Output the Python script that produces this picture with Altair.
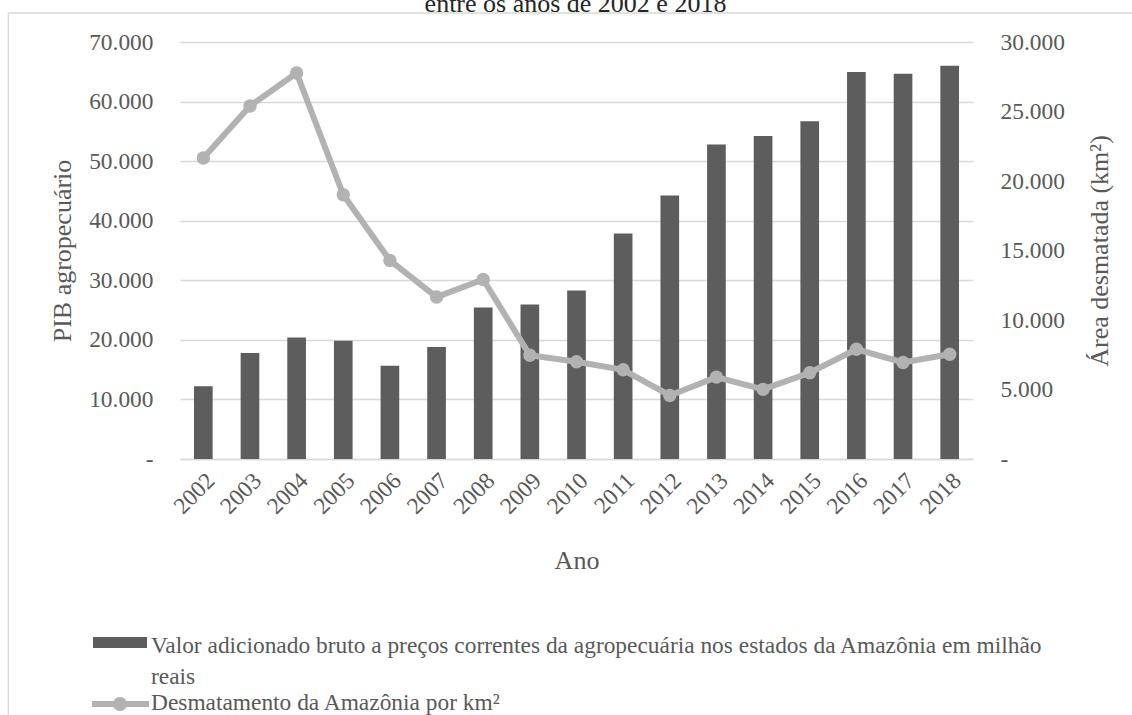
import altair as alt
import pandas as pd

# Série anual (2002-2018)
anos = [str(a) for a in range(2002, 2019)]
pib_agro = [12200, 17800, 20400, 19850, 15650, 18800, 25450, 25950, 28300,
            37850, 44250, 52800, 54200, 56700, 64950, 64650, 66000]
desmatamento = [21651, 25396, 27772, 19014, 14286, 11651, 12911, 7464, 7000,
                6418, 4571, 5891, 5012, 6207, 7893, 6947, 7536]

ticks_pib = [0, 10000, 20000, 30000, 40000, 50000, 60000, 70000]
ticks_area = [0, 5000, 10000, 15000, 20000, 25000, 30000]

titulo = "entre os anos de 2002 e 2018"
legenda_barras = "Valor adicionado bruto a preços correntes da agropecuária nos estados da Amazônia em milhão\nreais"
legenda_linha = "Desmatamento da Amazônia por km²"

COR_BARRA = "#5d5d5d"
COR_LINHA = "#b2b2b2"
COR_TEXTO = "#595959"
COR_GRADE = "#d9d9d9"
FONTE = "Liberation Serif"
TAM_ROTULO = 23.4
TAM_TITULO = 26

W, H = 793, 417
PAD = {"left": 180, "top": 42, "right": 1132 - 180 - W, "bottom": 715 - 42 - H}

df = pd.DataFrame({"Ano": anos, "PIB": pib_agro, "Desmatamento": desmatamento})

rotulo_num = "datum.value == 0 ? '-' : replace(format(datum.value, ',.0f'), ',', '.')"

eixo_x = alt.X(
    "Ano:N", sort=anos,
    scale=alt.Scale(paddingInner=0.6, paddingOuter=0.3),
    axis=alt.Axis(
        title="Ano", labelAngle=-45, labelFontSize=TAM_ROTULO, labelColor=COR_TEXTO,
        labelPadding=10, ticks=False, domainColor=COR_GRADE, domainWidth=1.3,
        titleFontSize=TAM_TITULO, titleColor=COR_TEXTO, titleFontWeight="normal",
        titleY=109, titleBaseline="alphabetic",
    ),
)

barras = alt.Chart(df).mark_bar(color=COR_BARRA).encode(
    x=eixo_x,
    y=alt.Y(
        "PIB:Q",
        scale=alt.Scale(domain=[0, 70000], nice=False),
        axis=alt.Axis(
            values=ticks_pib, labelExpr=rotulo_num, title="PIB agropecuário",
            labelFontSize=TAM_ROTULO, labelColor=COR_TEXTO, labelPadding=27,
            grid=True, gridColor=COR_GRADE, gridWidth=1.3, domain=False, ticks=False,
            titleFontSize=TAM_TITULO, titleColor=COR_TEXTO, titleFontWeight="normal",
            titleAngle=-90, titleX=-110, titleY=H / 2, titleAlign="center",
            titleBaseline="alphabetic",
        ),
    ),
)

linha = alt.Chart(df).mark_line(
    color=COR_LINHA, strokeWidth=6,
    point=alt.OverlayMarkDef(filled=True, size=180, color=COR_LINHA, opacity=1),
).encode(
    x=eixo_x,
    y=alt.Y(
        "Desmatamento:Q",
        scale=alt.Scale(domain=[0, 30000], nice=False),
        axis=alt.Axis(
            orient="right", values=ticks_area, labelExpr=rotulo_num,
            title="Área desmatada (km²)", labelFontSize=TAM_ROTULO, labelColor=COR_TEXTO,
            labelPadding=27, grid=False, domain=False, ticks=False,
            titleFontSize=TAM_TITULO, titleColor=COR_TEXTO, titleFontWeight="normal",
            titleAngle=-90, titleX=134, titleY=H / 2, titleAlign="center",
            titleBaseline="alphabetic",
        ),
    ),
)

um = pd.DataFrame({"k": [0]})

# Título (segunda linha, parcialmente fora da área visível)
texto_titulo = alt.Chart(pd.DataFrame({"t": [titulo]})).mark_text(
    font=FONTE, fontSize=TAM_TITULO, color="#262626", align="center", baseline="alphabetic",
).encode(text="t:N", x=alt.value(W / 2 - 1), y=alt.value(-30))

# Moldura do gráfico
moldura_topo = alt.Chart(um).mark_rule(color=COR_GRADE, strokeWidth=1.3).encode(
    x=alt.value(-171.7), x2=alt.value(1000), y=alt.value(-29))
moldura_esq = alt.Chart(um).mark_rule(color=COR_GRADE, strokeWidth=1.3).encode(
    x=alt.value(-171.7), y=alt.value(-29), y2=alt.value(700))

# Legenda
leg_barra = alt.Chart(um).mark_rect(color=COR_BARRA).encode(
    x=alt.value(-87), x2=alt.value(-33), y=alt.value(595), y2=alt.value(606))
leg_barra_txt = alt.Chart(pd.DataFrame({"t": [legenda_barras]})).mark_text(
    font=FONTE, align="left", baseline="alphabetic", fontSize=TAM_ROTULO, color=COR_TEXTO,
    lineBreak="\n", lineHeight=31,
).encode(text="t:N", x=alt.value(-29), y=alt.value(611))
leg_linha = alt.Chart(um).mark_rule(color=COR_LINHA, strokeWidth=6).encode(
    x=alt.value(-88), x2=alt.value(-31), y=alt.value(662))
leg_ponto = alt.Chart(um).mark_point(filled=True, size=200, color=COR_LINHA, opacity=1).encode(
    x=alt.value(-60), y=alt.value(662))
leg_linha_txt = alt.Chart(pd.DataFrame({"t": [legenda_linha]})).mark_text(
    font=FONTE, align="left", baseline="alphabetic", fontSize=TAM_ROTULO, color=COR_TEXTO,
).encode(text="t:N", x=alt.value(-29), y=alt.value(668))

chart = alt.layer(
    barras, linha, texto_titulo, moldura_topo, moldura_esq,
    leg_barra, leg_barra_txt, leg_linha, leg_ponto, leg_linha_txt,
).resolve_scale(y="independent").properties(
    width=W, height=H, padding=PAD, autosize=alt.AutoSizeParams(type="none"),
).configure(font=FONTE, background="white").configure_view(stroke=None)

chart.save("out.html", embed_options={"renderer": "svg", "actions": False})
